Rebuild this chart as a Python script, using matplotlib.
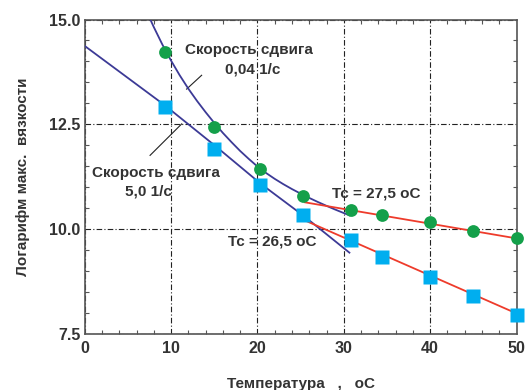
import matplotlib
matplotlib.use("Agg")
import matplotlib.pyplot as plt
from matplotlib.ticker import MultipleLocator

plt.rcParams['font.family'] = ['Liberation Sans', 'DejaVu Sans']
plt.rcParams['font.weight'] = 'bold'

# Data
temp = [9.3, 15.0, 20.3, 25.3, 30.8, 34.4, 40.0, 45.0, 50.0]
visc_low = [14.22, 12.44, 11.43, 10.78, 10.45, 10.33, 10.17, 9.96, 9.79]   # 0,04 1/s
visc_high = [12.91, 11.90, 11.06, 10.33, 9.75, 9.34, 8.86, 8.41, 7.95]    # 5,0 1/s

# fitted curves (purple) below Tc
curve_low_x = [7.6, 8, 9, 10, 11, 12, 13, 14, 15, 16, 17, 18, 19, 20, 21, 22,
               23, 24, 25, 26, 27, 28, 29, 30, 30.65]
curve_low_y = [15.0, 14.82, 14.40, 14.02, 13.67, 13.35, 13.06, 12.79, 12.535,
               12.295, 12.075, 11.865, 11.675, 11.495, 11.34, 11.20, 11.073,
               10.956, 10.848, 10.745, 10.648, 10.556, 10.468, 10.384, 10.33]
curve_high_x = [0.0, 9.3, 15.15, 20.4, 25.4, 30.65]
curve_high_y = [14.37, 12.95, 11.98, 11.08, 10.31, 9.44]

# red lines above Tc
red_low_x = [25.5, 50.0]
red_low_y = [10.64, 9.78]
red_high_x = [25.7, 50.0]
red_high_y = [10.19, 7.99]

fig = plt.figure(figsize=(5.26, 3.90), dpi=100)
ax = fig.add_axes([0.161, 0.1436, 0.821, 0.8064])

txt = '#333333'
purple = '#3c3a96'
red = '#ee3b2b'
green = '#14a04a'
cyan = '#00aeef'

ax.plot(curve_low_x, curve_low_y, color=purple, lw=1.3, zorder=3)
ax.plot(curve_high_x, curve_high_y, color=purple, lw=1.3, zorder=3)
ax.plot(red_low_x, red_low_y, color=red, lw=1.3, zorder=3)
ax.plot(red_high_x, red_high_y, color=red, lw=1.3, zorder=3)

ax.plot(temp, visc_low, 'o', color=green, ms=9.2, mec='none', zorder=5, clip_on=False)
ax.plot(temp, visc_high, 's', color=cyan, ms=10, mec='none', zorder=5, clip_on=False)

# leader lines
ax.plot([13.54, 11.8], [13.67, 13.34], color='#222222', lw=0.8, zorder=2)
ax.plot([7.57, 11.23], [11.76, 12.51], color='#222222', lw=0.8, zorder=2)

fs = 11
ax.text(19.0, 14.28, 'Скорость сдвига', ha='center', va='center', fontsize=fs, color=txt, fontweight='bold')
ax.text(19.4, 13.81, '0,04 1/с', ha='center', va='center', fontsize=fs, color=txt, fontweight='bold')
ax.text(8.29, 11.33, 'Скорость сдвига', ha='center', va='center', fontsize=fs, color=txt, fontweight='bold')
ax.text(7.37, 10.90, '5,0 1/с', ha='center', va='center', fontsize=fs, color=txt, fontweight='bold')
ax.text(33.8, 10.84, 'Тс = 27,5 оС', ha='center', va='center', fontsize=fs, color=txt, fontweight='bold')
ax.text(21.74, 9.71, 'Тс = 26,5 оС', ha='center', va='center', fontsize=fs, color=txt, fontweight='bold')

ax.set_xlim(0, 50)
ax.set_ylim(7.5, 15.0)
ax.xaxis.set_major_locator(MultipleLocator(10))
ax.xaxis.set_minor_locator(MultipleLocator(2))
ax.yaxis.set_major_locator(MultipleLocator(2.5))
ax.yaxis.set_minor_locator(MultipleLocator(0.5))
ax.yaxis.set_major_formatter(matplotlib.ticker.FormatStrFormatter('%.1f'))

ax.tick_params(which='both', direction='in', top=True, right=True, color='#555555')
ax.tick_params(which='major', length=0, labelsize=11.5, labelcolor=txt, pad=5)
ax.tick_params(axis='y', which='major', pad=3)
ax.tick_params(which='minor', length=3, width=0.8)
for lab in ax.get_xticklabels() + ax.get_yticklabels():
    lab.set_fontweight('bold')

ax.grid(True, which='major', color='#222222', lw=0.8, linestyle=(0, (5, 2, 1, 2)))
ax.set_axisbelow(True)
for s in ax.spines.values():
    s.set_color('#555555')
    s.set_linewidth(1.2)

ax.set_xlabel('Температура   ,   оС', fontsize=11, color=txt, fontweight='bold', labelpad=15)
ax.set_ylabel('Логарифм макс.  вязкости', fontsize=11, color=txt, fontweight='bold', labelpad=14)

fig.savefig('out.png', dpi=100)
